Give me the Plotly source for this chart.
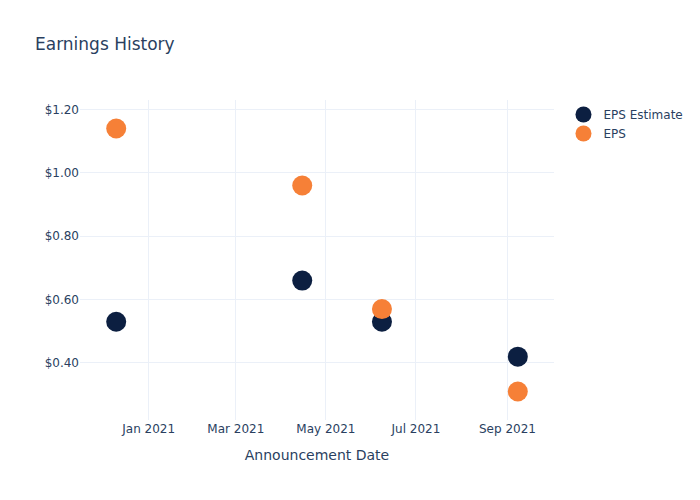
import plotly.graph_objects as go

dates = ["2020-12-10", "2021-04-15", "2021-06-08", "2021-09-08"]
eps_estimate = [0.53, 0.66, 0.53, 0.42]
eps_actual = [1.14, 0.96, 0.57, 0.31]

fig = go.Figure()
fig.add_trace(go.Scatter(x=dates, y=eps_estimate, mode="markers", name="EPS Estimate",
                         marker=dict(size=20, color="#0c1f41")))
fig.add_trace(go.Scatter(x=dates, y=eps_actual, mode="markers", name="EPS",
                         marker=dict(size=20, color="#f68037")))
fig.update_layout(
    template="plotly_white",
    width=700, height=500,
    font=dict(family="DejaVu Sans"),
    title=dict(text="Earnings History"),
    xaxis=dict(title=dict(text="Announcement Date")),
    yaxis=dict(tickformat="$.2f"),
)
fig.write_html("out.html")
